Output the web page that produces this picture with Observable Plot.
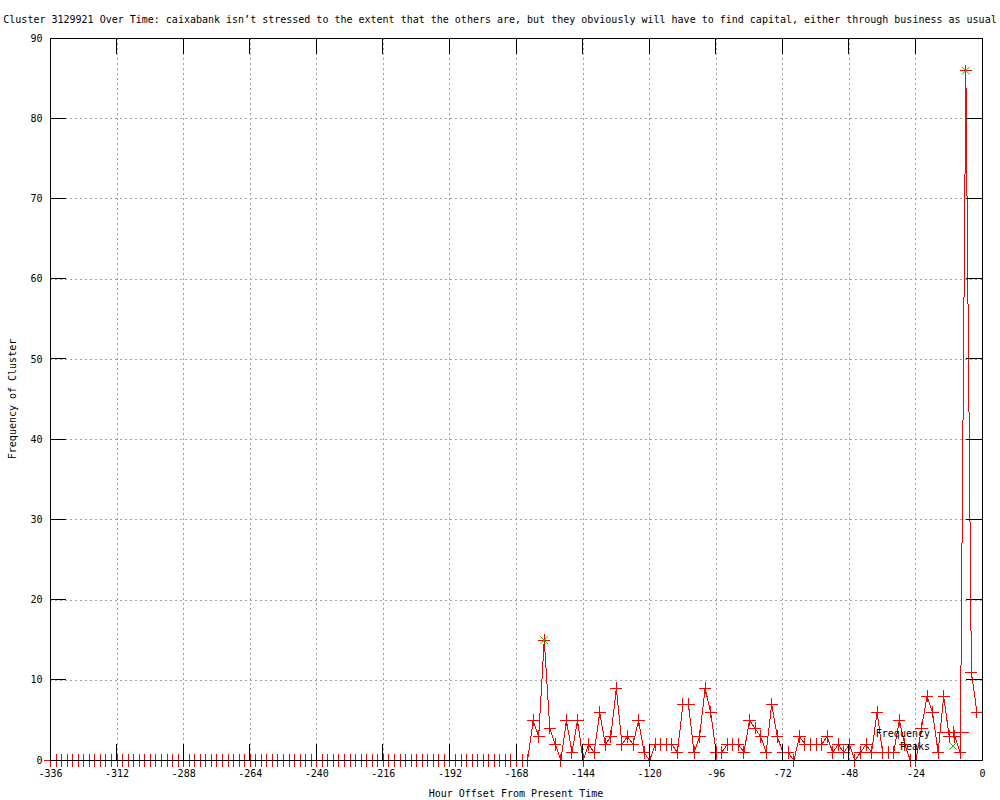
<!DOCTYPE html>
<html>
<head>
<meta charset="utf-8">
<script src="https://cdn.jsdelivr.net/npm/d3@7"></script>
<script src="https://cdn.jsdelivr.net/npm/@observablehq/plot@0.6"></script>
<style>
  body { margin: 0; background: #ffffff; }
  #chart svg { display: block; }
</style>
</head>
<body>
<div id="chart"></div>
<script>
const titleText = "Cluster 3129921 Over Time: caixabank isn’t stressed to the extent that the others are, but they obviously will have to find capital, either through business as usual";
const xLabel = "Hour Offset From Present Time";
const yLabel = "Frequency of Cluster";
const legendLabels = ["Frequency", "Peaks"];

const hours = [
  -336,-334,-332,-330,-328,-326,-324,-322,-320,-318,-316,-314,
  -312,-310,-308,-306,-304,-302,-300,-298,-296,-294,-292,-290,
  -288,-286,-284,-282,-280,-278,-276,-274,-272,-270,-268,-266,
  -264,-262,-260,-258,-256,-254,-252,-250,-248,-246,-244,-242,
  -240,-238,-236,-234,-232,-230,-228,-226,-224,-222,-220,-218,
  -216,-214,-212,-210,-208,-206,-204,-202,-200,-198,-196,-194,
  -192,-190,-188,-186,-184,-182,-180,-178,-176,-174,-172,-170,
  -168,-166,-164,-162,-160,-158,-156,-154,-152,-150,-148,-146,
  -144,-142,-140,-138,-136,-134,-132,-130,-128,-126,-124,-122,
  -120,-118,-116,-114,-112,-110,-108,-106,-104,-102,-100,-98,
  -96,-94,-92,-90,-88,-86,-84,-82,-80,-78,-76,-74,
  -72,-70,-68,-66,-64,-62,-60,-58,-56,-54,-52,-50,
  -48,-46,-44,-42,-40,-38,-36,-34,-32,-30,-28,-26,
  -24,-22,-20,-18,-16,-14,-12,-10,-8,-6,-4,-2
];

const frequency = [
  0,0,0,0,0,0,0,0,0,0,0,0,
  0,0,0,0,0,0,0,0,0,0,0,0,
  0,0,0,0,0,0,0,0,0,0,0,0,
  0,0,0,0,0,0,0,0,0,0,0,0,
  0,0,0,0,0,0,0,0,0,0,0,0,
  0,0,0,0,0,0,0,0,0,0,0,0,
  0,0,0,0,0,0,0,0,0,0,0,0,
  0,0,0,5,3,15,4,2,0,5,1,5,
  0,2,1,6,2,3,9,2,3,2,5,1,
  0,2,2,2,2,1,7,7,1,3,9,6,
  1,1,2,2,2,1,5,4,3,1,7,3,
  1,1,0,3,2,2,2,2,3,1,2,1,
  2,0,1,2,1,6,1,1,1,5,2,0,
  0,4,8,6,1,8,3,3,1,86,11,6
];

const peakHours = [-158, -6];
const peakValues = [15, 86];

const xTicks = [-336,-312,-288,-264,-240,-216,-192,-168,-144,-120,-96,-72,-48,-24,0];
const yTicks = [0,10,20,30,40,50,60,70,80,90];

const freqData = hours.map((h, i) => ({h, v: frequency[i]}));
const peakData = peakHours.map((h, i) => ({h, v: peakValues[i]}));

const RED = "#ff0000";
const GREEN = "#00c000";
const GRID = "#a0a0a0";

const chart = Plot.plot({
  width: 1000,
  height: 800,
  marginLeft: 50,
  marginRight: 18,
  marginTop: 38,
  marginBottom: 40,
  style: {fontFamily: "'DejaVu Sans Mono', monospace", fontSize: "10px", background: "#ffffff", color: "#000000", overflow: "visible"},
  x: {domain: [-336, 0], label: null},
  y: {domain: [0, 90], label: null},
  marks: [
    Plot.gridX(xTicks, {stroke: GRID, strokeOpacity: 1, strokeDasharray: "2,3", shapeRendering: "crispEdges"}),
    Plot.gridY(yTicks, {stroke: GRID, strokeOpacity: 1, strokeDasharray: "2,3", shapeRendering: "crispEdges"}),
    Plot.axisX(xTicks, {tickSize: 0, tickPadding: 9, tickFormat: d => String(d).replace("−", "-"), label: null, fill: "#000"}),
    Plot.axisY(yTicks, {tickSize: 0, tickPadding: 8, tickFormat: d => String(d), label: null, fill: "#000"}),
    Plot.line(freqData, {x: "h", y: "v", stroke: RED, strokeWidth: 1, shapeRendering: "crispEdges"}),
    Plot.dot(freqData, {x: "h", y: "v", symbol: "plus", r: 4, stroke: RED, strokeWidth: 1, fill: "none", shapeRendering: "crispEdges"}),
    Plot.dot(peakData, {x: "h", y: "v", symbol: "times", r: 3.5, stroke: GREEN, strokeWidth: 1, fill: "none"}),
    Plot.frame({stroke: "#000", strokeWidth: 1, shapeRendering: "crispEdges"})
  ]
});

document.getElementById("chart").appendChild(chart);

d3.select(chart).selectAll("text").each(function() {
  const t = d3.select(this);
  if (t.text().includes("−")) t.text(t.text().replace(/−/g, "-"));
});

const sx = chart.scale("x");
const sy = chart.scale("y");
const L = sx.apply(-336), R = sx.apply(0);
const T = sy.apply(90), B = sy.apply(0);
const tickLen = 16;

const svg = d3.select(chart);
const tg = svg.append("g").attr("stroke", "#000").attr("shape-rendering", "crispEdges");
xTicks.forEach(v => {
  const x = sx.apply(v);
  tg.append("line").attr("x1", x).attr("x2", x).attr("y1", B).attr("y2", B - tickLen);
  tg.append("line").attr("x1", x).attr("x2", x).attr("y1", T).attr("y2", T + tickLen);
});
yTicks.forEach(v => {
  const y = sy.apply(v);
  tg.append("line").attr("x1", L).attr("x2", L + tickLen).attr("y1", y).attr("y2", y);
  tg.append("line").attr("x1", R).attr("x2", R - tickLen).attr("y1", y).attr("y2", y);
});

// Title
svg.append("text")
  .attr("x", 500).attr("y", 23)
  .attr("text-anchor", "middle")
  .attr("fill", "#000")
  .text(titleText);

// Axis labels
svg.append("text")
  .attr("x", (L + R) / 2).attr("y", 797)
  .attr("text-anchor", "middle")
  .attr("fill", "#000")
  .text(xLabel);

svg.append("text")
  .attr("transform", `translate(16,${(T + B) / 2}) rotate(-90)`)
  .attr("text-anchor", "middle")
  .attr("fill", "#000")
  .text(yLabel);

// Legend (bottom right, inside frame)
const lg = svg.append("g");
const textRight = R - 52;
const sampleX1 = R - 45, sampleX2 = R - 13, sampleMid = (sampleX1 + sampleX2) / 2;
const row1 = B - 28, row2 = B - 14;
lg.append("text").attr("x", textRight).attr("y", row1 + 1).attr("text-anchor", "end")
  .attr("dominant-baseline", "central").attr("fill", "#000").text(legendLabels[0]);
lg.append("text").attr("x", textRight).attr("y", row2).attr("text-anchor", "end")
  .attr("dominant-baseline", "central").attr("fill", "#000").text(legendLabels[1]);
lg.append("line").attr("x1", sampleX1).attr("x2", sampleX2).attr("y1", row1).attr("y2", row1)
  .attr("stroke", RED).attr("shape-rendering", "crispEdges");
lg.append("path").attr("transform", `translate(${sampleMid},${row1})`)
  .attr("d", d3.symbol(d3.symbolPlus, Math.PI * 16)()).attr("stroke", RED).attr("fill", "none")
  .attr("shape-rendering", "crispEdges");
lg.append("path").attr("transform", `translate(${sampleMid},${row2})`)
  .attr("d", d3.symbol(d3.symbolTimes, Math.PI * 12.25)()).attr("stroke", GREEN).attr("fill", "none");
</script>
</body>
</html>
